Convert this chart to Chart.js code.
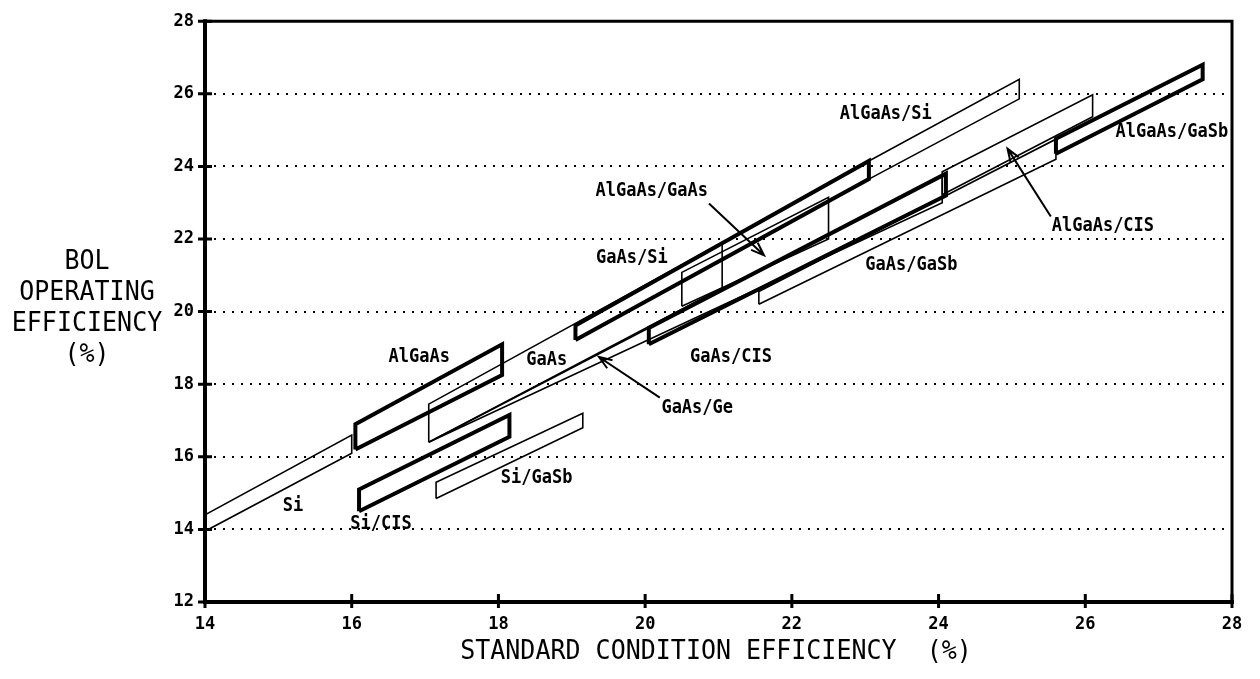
<!DOCTYPE html>
<html>
<head>
  <title>BOL Operating Efficiency</title>
  <script src="https://cdn.jsdelivr.net/npm/chart.js"></script>
  <style>
    body { margin: 0; background: #fff; }
  </style>
</head>
<body>
  <canvas id="effChart" width="1260" height="679"></canvas>

  <script>
    // each band is a parallelogram: low/high efficiency at start and end of its x range
    const bandNames = ['Si', 'AlGaAs', 'GaAs', 'Si/CIS', 'Si/GaSb', 'GaAs/Ge', 'GaAs/Si',
      'AlGaAs/GaAs', 'GaAs/CIS', 'GaAs/GaSb', 'AlGaAs/Si', 'AlGaAs/CIS', 'AlGaAs/GaSb'];
    const xStart    = [14.0, 16.05, 17.05, 16.1, 17.15, 17.05, 19.05, 20.5, 20.05, 21.55, 23.05, 24.05, 25.6];
    const xEnd      = [16.0, 18.05, 21.05, 18.15, 19.15, 24.05, 23.05, 22.5, 24.1, 25.6, 25.1, 26.1, 27.6];
    const lowStart  = [13.95, 16.2, 16.4, 14.5, 14.85, 16.4, 19.22, 20.15, 19.1, 20.2, 23.65, 23.22, 24.35];
    const lowEnd    = [16.1, 18.25, 20.65, 16.55, 16.8, 23.0, 23.65, 22.0, 23.2, 24.2, 25.86, 25.37, 26.4];
    const highStart = [14.4, 16.9, 17.45, 15.1, 15.3, 16.4, 19.62, 21.08, 19.55, 20.55, 24.15, 23.85, 24.76];
    const highEnd   = [16.6, 19.1, 21.9, 17.15, 17.2, 23.75, 24.15, 23.15, 23.8, 24.75, 26.4, 25.97, 26.8];
    const heavyBands = ['AlGaAs', 'Si/CIS', 'GaAs/Si', 'GaAs/CIS', 'AlGaAs/GaSb'];

    const xTicks = [14, 16, 18, 20, 22, 24, 26, 28];
    const yTicks = [12, 14, 16, 18, 20, 22, 24, 26, 28];

    // label text and where it sits (data units)
    const labelText = ['AlGaAs/Si', 'AlGaAs/GaSb', 'AlGaAs/GaAs', 'AlGaAs/CIS', 'GaAs/Si', 'GaAs/GaSb',
      'AlGaAs', 'GaAs', 'GaAs/CIS', 'GaAs/Ge', 'Si/GaSb', 'Si', 'Si/CIS'];
    const labelX = [23.28, 27.18, 20.09, 26.24, 19.82, 23.63, 16.92, 18.66, 21.17, 20.71, 18.52, 15.2, 16.4];
    const labelY = [25.45, 24.95, 23.33, 22.35, 21.47, 21.28, 18.75, 18.67, 18.75, 17.35, 15.4, 14.64, 14.14];

    // pointer arrows: tail -> head
    const arrowFrom = [[20.87, 22.98], [20.2, 17.63], [25.53, 22.62]];
    const arrowTo   = [[21.62, 21.55], [19.37, 18.75], [24.94, 24.49]];

    const mono = '"DejaVu Sans Mono", "Liberation Mono", monospace';

    const datasets = bandNames.map((name, i) => ({
      label: name,
      data: [
        { x: xStart[i], y: lowStart[i] },
        { x: xEnd[i], y: lowEnd[i] },
        { x: xEnd[i], y: highEnd[i] },
        { x: xStart[i], y: highStart[i] },
        { x: xStart[i], y: lowStart[i] }
      ],
      showLine: true,
      fill: false,
      tension: 0,
      borderColor: '#000',
      borderWidth: heavyBands.includes(name) ? 4 : 1.6,
      borderJoinStyle: 'miter',
      pointRadius: 0,
      pointHoverRadius: 0
    }));

    function stretchedText(ctx, text, x, y, font, sy) {
      ctx.save();
      ctx.translate(x, y);
      ctx.scale(1, sy);
      ctx.font = font;
      ctx.fillText(text, 0, 0);
      ctx.restore();
    }

    const decorations = {
      id: 'decorations',
      afterDatasetsDraw(chart) {
        const { ctx, chartArea: a, scales: { x, y } } = chart;
        ctx.save();
        ctx.fillStyle = '#000';
        ctx.strokeStyle = '#000';
        ctx.textAlign = 'center';
        ctx.textBaseline = 'middle';

        // band labels
        labelText.forEach((t, i) => {
          stretchedText(ctx, t, x.getPixelForValue(labelX[i]), y.getPixelForValue(labelY[i]),
            'bold 17px ' + mono, 1.1);
        });

        // arrows
        ctx.lineWidth = 2;
        arrowFrom.forEach((f, i) => {
          const x0 = x.getPixelForValue(f[0]), y0 = y.getPixelForValue(f[1]);
          const x1 = x.getPixelForValue(arrowTo[i][0]), y1 = y.getPixelForValue(arrowTo[i][1]);
          const ang = Math.atan2(y1 - y0, x1 - x0);
          ctx.beginPath();
          ctx.moveTo(x0, y0);
          ctx.lineTo(x1, y1);
          ctx.moveTo(x1 - 14 * Math.cos(ang - 0.35), y1 - 14 * Math.sin(ang - 0.35));
          ctx.lineTo(x1, y1);
          ctx.lineTo(x1 - 14 * Math.cos(ang + 0.35), y1 - 14 * Math.sin(ang + 0.35));
          ctx.stroke();
        });

        // frame
        ctx.lineCap = 'square';
        ctx.lineWidth = 3;
        ctx.beginPath();
        ctx.moveTo(a.left, a.top); ctx.lineTo(a.right, a.top); ctx.lineTo(a.right, a.bottom);
        ctx.stroke();
        ctx.lineWidth = 4;
        ctx.beginPath();
        ctx.moveTo(a.left, a.top); ctx.lineTo(a.left, a.bottom); ctx.lineTo(a.right, a.bottom);
        ctx.stroke();

        // tick crosses
        ctx.lineCap = 'butt';
        ctx.lineWidth = 3;
        ctx.beginPath();
        yTicks.forEach(v => {
          const py = y.getPixelForValue(v);
          ctx.moveTo(a.left - 7, py); ctx.lineTo(a.left + 7, py);
        });
        xTicks.forEach(v => {
          const px = x.getPixelForValue(v);
          ctx.moveTo(px, a.bottom - 8); ctx.lineTo(px, a.bottom + 6);
        });
        ctx.stroke();

        // axis titles
        stretchedText(ctx, 'STANDARD CONDITION EFFICIENCY  (%)', 716, 652, '25px ' + mono, 1.05);
        ['BOL', 'OPERATING', 'EFFICIENCY', '(%)'].forEach((t, i) => {
          stretchedText(ctx, t, 87, 262 + i * 31, '25px ' + mono, 1.05);
        });
        ctx.restore();
      }
    };

    new Chart(document.getElementById('effChart'), {
      type: 'scatter',
      data: { datasets },
      plugins: [decorations],
      options: {
        responsive: false,
        animation: false,
        layout: { padding: { top: 20, right: 28, left: 0, bottom: 0 } },
        plugins: { legend: { display: false }, tooltip: { enabled: false } },
        scales: {
          x: {
            type: 'linear',
            min: 14,
            max: 28,
            afterBuildTicks: s => { s.ticks = xTicks.map(v => ({ value: v })); },
            afterFit: s => { s.height = 77; },
            grid: { display: false, drawTicks: false },
            border: { display: false },
            ticks: { color: '#000', padding: 12, font: { family: mono, size: 17, weight: 'bold' } }
          },
          y: {
            type: 'linear',
            min: 12,
            max: 28,
            afterBuildTicks: s => { s.ticks = yTicks.map(v => ({ value: v })); },
            afterFit: s => { s.width = 205; },
            grid: {
              drawTicks: false,
              lineWidth: 2,
              color: c => (c.tick && (c.tick.value === 12 || c.tick.value === 28)) ? 'rgba(0,0,0,0)' : '#000'
            },
            border: { display: false, dash: [2, 7] },
            ticks: { color: '#000', padding: 11, font: { family: mono, size: 17, weight: 'bold' } }
          }
        }
      }
    });
  </script>
</body>
</html>
